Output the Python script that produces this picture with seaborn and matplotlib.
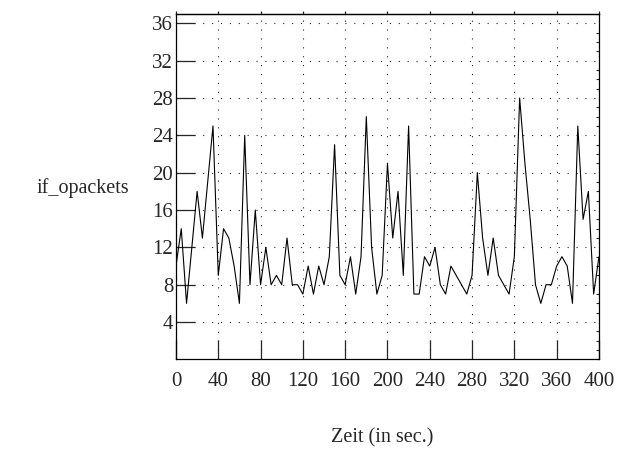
import numpy as np
import pandas as pd
import matplotlib
matplotlib.use("Agg")
import matplotlib.pyplot as plt
import seaborn as sns

# time axis (sec.) and packet counts
zeit = list(range(0, 405, 5))
if_opackets = [10, 14, 6, 12, 18, 13, 19, 25, 9, 14,
               13, 10, 6, 24, 8, 16, 8, 12, 8, 9,
               8, 13, 8, 8, 7, 10, 7, 10, 8, 11,
               23, 9, 8, 11, 7, 11, 26, 12, 7, 9,
               21, 13, 18, 9, 25, 7, 7, 11, 10, 12,
               8, 7, 10, 9, 8, 7, 9, 20, 13, 9,
               13, 9, 8, 7, 11, 28, 21, 15, 8, 6,
               8, 8, 10, 11, 10, 6, 25, 15, 18, 7,
               11]
x_ticks = list(range(0, 401, 40))
y_ticks = list(range(4, 37, 4))

df = pd.DataFrame({"zeit": zeit, "if_opackets": if_opackets})

sns.set_style("white")
plt.rcParams["font.family"] = ["Liberation Serif", "DejaVu Serif"]

fig = plt.figure(figsize=(6.33, 4.51), dpi=100)
ax = fig.add_axes([0.278, 0.2031, 0.6682, 0.7659])

sns.lineplot(data=df, x="zeit", y="if_opackets", ax=ax, color="black", linewidth=0.8)

ax.set_xlim(0, 400)
ax.set_ylim(0, 37)
ax.set_xticks(x_ticks)
ax.set_yticks(y_ticks)
ax.set_xlabel("")
ax.set_ylabel("")

# dotted grid
ax.grid(True, color="#222222", linestyle=(0, (1, 7)), linewidth=0.8)

for s in ax.spines.values():
    s.set_color("black")
    s.set_linewidth(0.9)

ax.tick_params(axis="x", direction="in", length=14, width=0.9, pad=9,
               labelsize=15, top=False, bottom=True)
ax.tick_params(axis="y", direction="in", length=14, width=0.9, pad=2,
               labelsize=15, left=True, right=False)
ax.yaxis.set_minor_locator(matplotlib.ticker.MultipleLocator(1))
ax.tick_params(axis="y", which="minor", direction="in", length=2, width=0.8,
               left=False, right=True)

# short marks on the top edge
top = ax.secondary_xaxis("top")
top.set_xticks(x_ticks)
top.tick_params(direction="out", length=2, width=0.9, labeltop=False)
top.spines["top"].set_linewidth(0.9)

fig.text(37 / 633, 1 - 188 / 451, "if_opackets", ha="left", va="center", fontsize=14.5)
fig.text(382 / 633, 1 - 438 / 451, "Zeit (in sec.)", ha="center", va="center", fontsize=14.5)

fig.savefig("out.png", dpi=100)
